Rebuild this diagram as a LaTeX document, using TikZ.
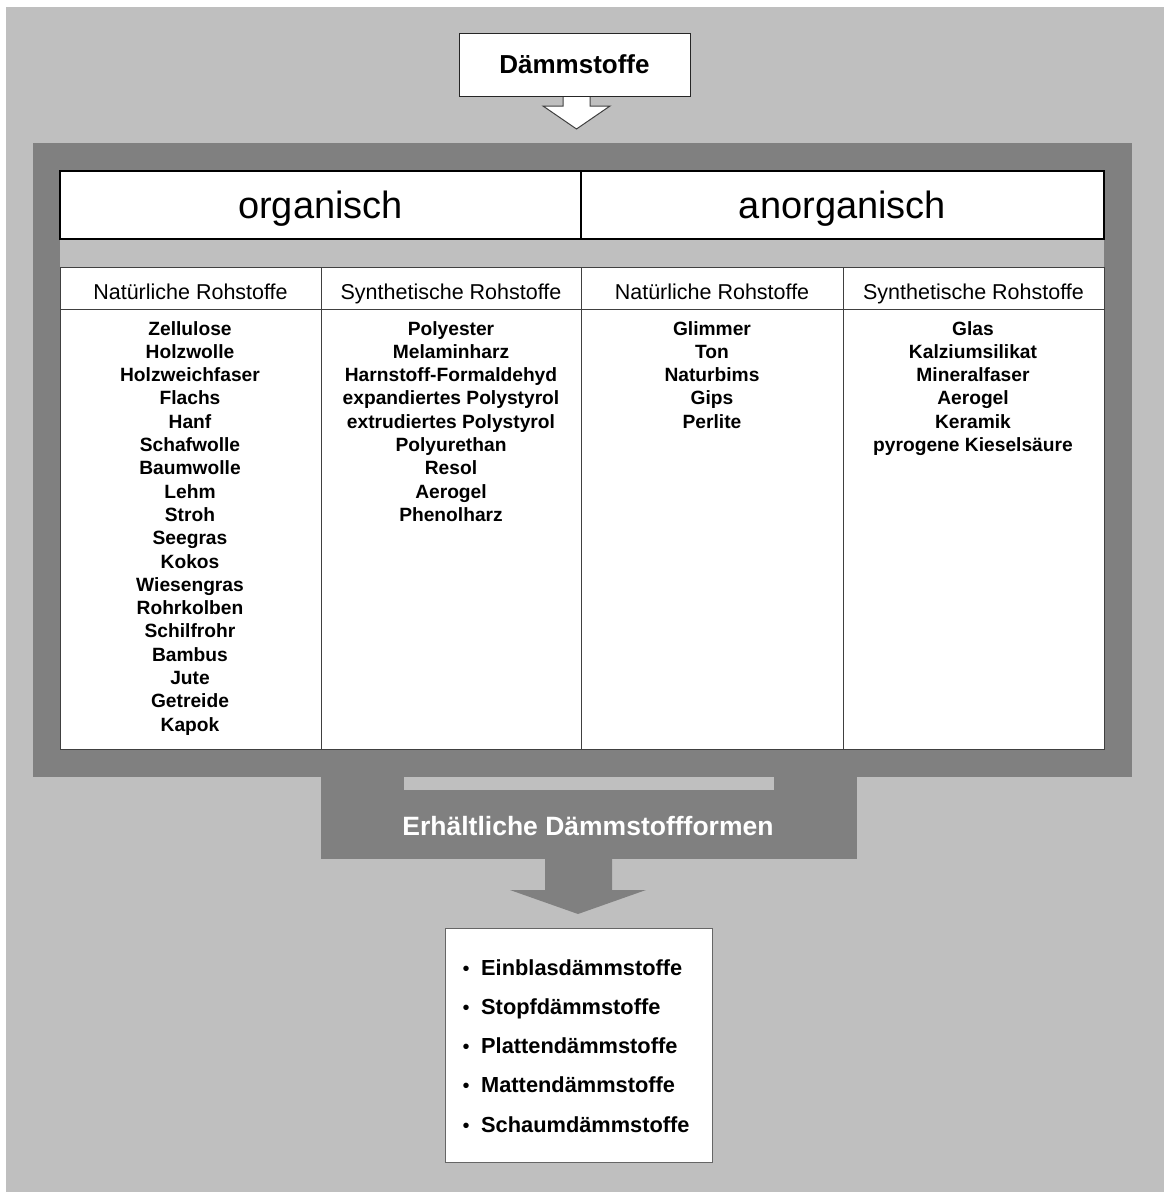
\documentclass[tikz,border=0pt]{standalone}
\usepackage{fontspec}
\setmainfont{Liberation Sans}
\definecolor{bglight}{HTML}{BFBFBF}
\definecolor{bgdark}{HTML}{808080}
\definecolor{linegray}{HTML}{404040}
\tikzset{
  item/.style={anchor=base, inner sep=0pt, font=\fontsize{19.2}{23}\selectfont\bfseries},
  subhead/.style={anchor=base, inner sep=0pt, font=\fontsize{21.5}{25}\selectfont},
  head/.style={anchor=base, inner sep=0pt, font=\fontsize{38}{44}\selectfont},
  listitem/.style={anchor=base west, inner sep=0pt, font=\fontsize{21.8}{26}\selectfont\bfseries},
  bulletmark/.style={anchor=base, inner sep=0pt, font=\fontsize{20}{24}\selectfont},
}
\begin{document}
\begin{tikzpicture}[x=1pt,y=-1pt]
\useasboundingbox (0,0) rectangle (1164,1192);
\fill[white] (0,0) rectangle (1164,1192);
\fill[bglight] (6,7) rectangle (1164,1192);

% top box and hollow arrow
\fill[white] (563,96) -- (563,106) -- (543,106) -- (576.5,129) -- (610,106) -- (590,106) -- (590,96) -- cycle;
\draw[linegray, line width=1pt, line join=miter] (563,96) -- (563,106) -- (543,106) -- (576.5,129) -- (610,106) -- (590,106) -- (590,96);
\node[draw=black!85, line width=1pt, fill=white, minimum width=231pt, minimum height=63pt, inner sep=0pt] (top) at (574.5,64.5) {};
\node[anchor=base, inner sep=0pt, font=\fontsize{26}{30}\selectfont\bfseries] (toptxt) at (574.5,73) {Dämmstoffe};

% dark frame
\fill[bgdark] (33,143) rectangle (1132,777);
% lower block
\fill[bgdark] (321,776) rectangle (857,859);
\fill[bglight] (404,777) rectangle (774,790);
\fill[bgdark] (545,858) -- (545,890) -- (510,890) -- (578,914) -- (646,890) -- (612,890) -- (612,858) -- cycle;
\node[anchor=base, inner sep=0pt, text=white, font=\fontsize{26.5}{30}\selectfont\bfseries] (forms) at (588,835) {Erhältliche Dämmstoffformen};

% table
\fill[white] (60,171) rectangle (1104,749);
\fill[bglight] (60,239) rectangle (1104,267);
\draw[linegray, line width=1pt] (60,267) rectangle (1104,749);
\draw[linegray, line width=1pt] (60,309) -- (1104,309);
\foreach \xx in {321,581,843} \draw[linegray, line width=1pt] (\xx,267) -- (\xx,749);
\draw[black, line width=2pt] (60,171) rectangle (581,239);
\draw[black, line width=2pt] (581,171) rectangle (1104,239);
\node[head] (org) at (320.5,218) {organisch};
\node[head] (anorg) at (842.5,218) {anorganisch};

\node[subhead] (s1) at (190.5,299) {Natürliche Rohstoffe};
\node[subhead] (s2) at (451,299) {Synthetische Rohstoffe};
\node[subhead] (s3) at (712,299) {Natürliche Rohstoffe};
\node[subhead] (s4) at (973.5,299) {Synthetische Rohstoffe};

\foreach \t [count=\i] in {Zellulose,Holzwolle,Holzweichfaser,Flachs,Hanf,Schafwolle,Baumwolle,Lehm,Stroh,Seegras,Kokos,Wiesengras,Rohrkolben,Schilfrohr,Bambus,Jute,Getreide,Kapok}
  \node[item] (a\i) at (190,{335+23.3*(\i-1)}) {\t};
\foreach \t [count=\i] in {Polyester,Melaminharz,Harnstoff-Formaldehyd,expandiertes Polystyrol,extrudiertes Polystyrol,Polyurethan,Resol,Aerogel,Phenolharz}
  \node[item] (b\i) at (451,{335+23.3*(\i-1)}) {\t};
\foreach \t [count=\i] in {Glimmer,Ton,Naturbims,Gips,Perlite}
  \node[item] (c\i) at (712,{335+23.3*(\i-1)}) {\t};
\foreach \t [count=\i] in {Glas,Kalziumsilikat,Mineralfaser,Aerogel,Keramik,pyrogene Kieselsäure}
  \node[item] (d\i) at (973,{335+23.3*(\i-1)}) {\t};

% bottom box
\node[draw=black!60, line width=1pt, fill=white, minimum width=267pt, minimum height=234pt, inner sep=0pt] (forms box) at (578.5,1045) {};
\foreach \t [count=\i] in {Einblasdämmstoffe,Stopfdämmstoffe,Plattendämmstoffe,Mattendämmstoffe,Schaumdämmstoffe}{
  \node[bulletmark] (bl\i) at (466,{975+39.25*(\i-1)}) {•};
  \node[listitem] (li\i) at (481,{975+39.25*(\i-1)}) {\t};
}
\end{tikzpicture}
\end{document}
